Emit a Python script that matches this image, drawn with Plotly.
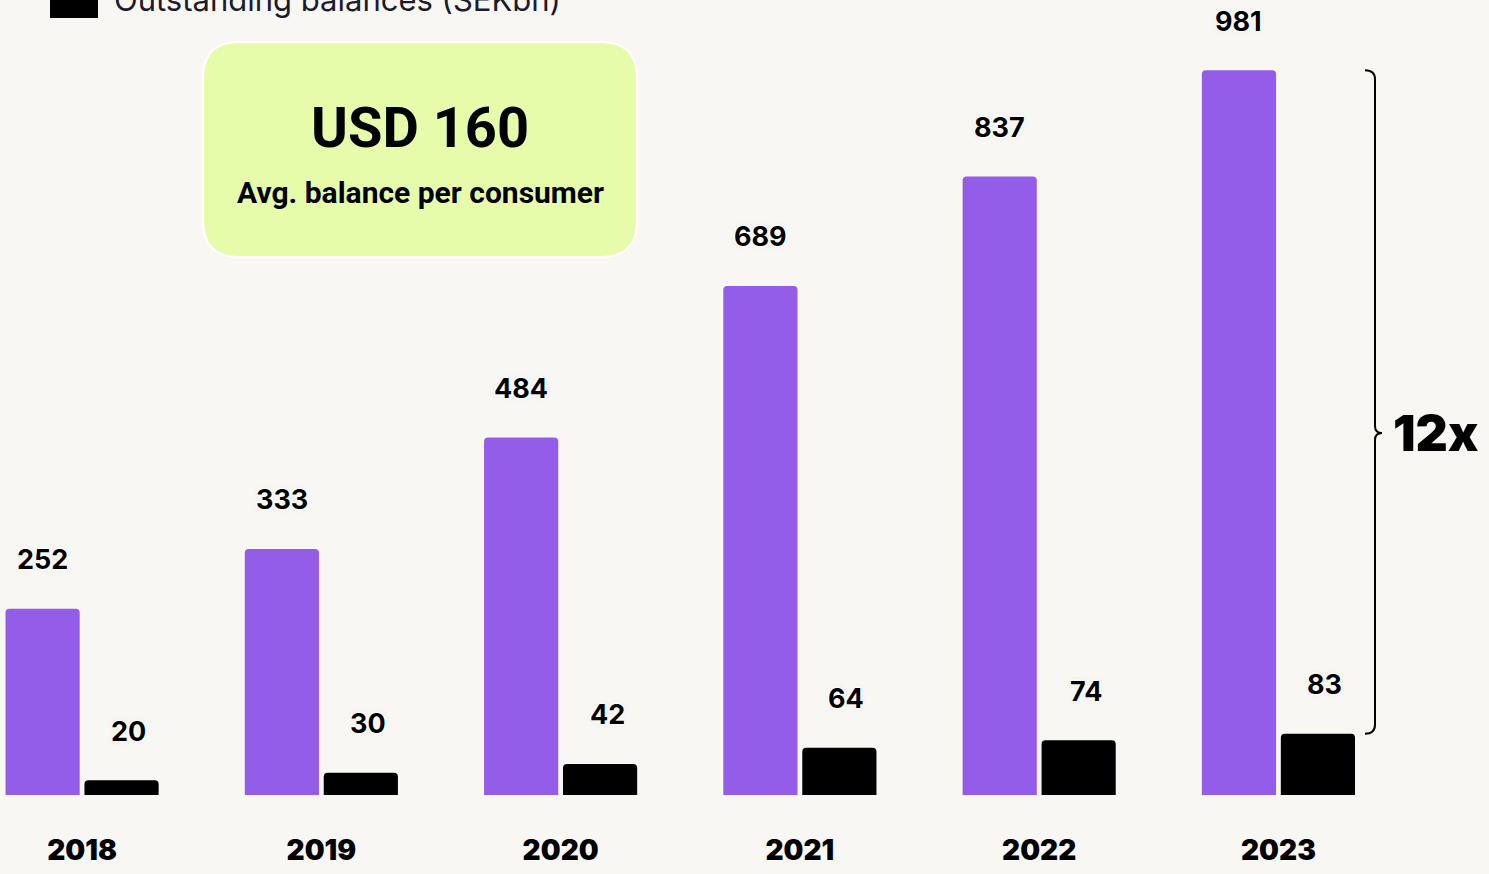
import plotly.graph_objects as go

# ---- data -------------------------------------------------------------
years = ["2018", "2019", "2020", "2021", "2022", "2023"]
primary_values = [252, 333, 484, 689, 837, 981]      # purple series
balances_sekbn = [20, 30, 42, 64, 74, 83]            # Outstanding balances (SEKbn)
legend_label = "Outstanding balances (SEKbn)"
callout_value = "USD 160"
callout_caption = "Avg. balance per consumer"
growth_label = "12x"

# ---- layout constants -------------------------------------------------
W, H = 1489, 874
MARGIN_B = 79
PLOT_H = H - MARGIN_B
BG = "#f8f7f3"
PURPLE = "#935ce9"
LIME = "#e6fcab"
X_RANGE = [-0.343, 5.880]
Y_RANGE = [0, 1076]
PX_X = W / (X_RANGE[1] - X_RANGE[0])        # pixels per x unit
PX_Y = PLOT_H / (Y_RANGE[1] - Y_RANGE[0])   # pixels per y unit
BAR_W = 0.31

idx = list(range(len(years)))


def px_to_paper_x(px):
    return px / W


def px_to_paper_y(px):
    # px measured from the top of the page
    return 1 - px / PLOT_H


fig = go.Figure()
fig.add_trace(go.Bar(
    x=idx, y=primary_values, width=BAR_W, offset=-0.32,
    marker=dict(color=PURPLE, cornerradius=4, line=dict(width=0)),
    showlegend=False, hoverinfo="skip",
))
fig.add_trace(go.Bar(
    x=idx, y=balances_sekbn, width=BAR_W, offset=0.01,
    marker=dict(color="#000000", cornerradius=4, line=dict(width=0)),
    showlegend=False, hoverinfo="skip",
))

halo = ("0 0 2px #ffffff, 0 0 3px #ffffff, 0 0 4px #ffffff, "
        "1px 1px 3px #ffffff, -1px -1px 3px #ffffff, 0 0 5px #d8d8d8")
label_font = dict(family="Inter, Roboto, sans-serif", size=27, color="#000000",
                  weight=700, shadow=halo)

annotations = []
for i, v in zip(idx, primary_values):
    annotations.append(dict(
        x=i - 0.32 + BAR_W / 2, y=v, xref="x", yref="y", text=str(v),
        showarrow=False, yshift=49, font=label_font,
    ))
for i, v in zip(idx, balances_sekbn):
    annotations.append(dict(
        x=i + 0.01 + BAR_W / 2, y=v, xref="x", yref="y", text=str(v),
        showarrow=False, yshift=49, xshift=7, font=label_font,
    ))

# legend entry at the top edge
annotations.append(dict(
    x=px_to_paper_x(112), y=1, xref="paper", yref="paper",
    xanchor="left", yanchor="middle", yshift=1, text=legend_label,
    showarrow=False,
    font=dict(family="Inter, Roboto, sans-serif", size=31, color="#1b1b2e"),
))

# callout box text
callout_font = "Roboto, Inter, sans-serif"
annotations.append(dict(
    x=px_to_paper_x(420), y=px_to_paper_y(128), xref="paper", yref="paper",
    text=callout_value, showarrow=False, xanchor="center", yanchor="middle",
    font=dict(family=callout_font, size=56, color="#000000", weight=700),
))
annotations.append(dict(
    x=px_to_paper_x(420), y=px_to_paper_y(193), xref="paper", yref="paper",
    text=callout_caption, showarrow=False, xanchor="center", yanchor="middle",
    font=dict(family=callout_font, size=30, color="#000000", weight=700),
))

# brace between the 2023 bar tops
top, bottom = primary_values[-1], balances_sekbn[-1]
tip = bottom + (top - bottom) * 0.453
x_line = X_RANGE[0] + 1375 / PX_X
x_hook = x_line - 10 / PX_X
x_tip = x_line + 7 / PX_X
r = 9 / PX_Y
rt = 7 / PX_Y
brace = (
    f"M {x_hook},{top} Q {x_line},{top} {x_line},{top - r} "
    f"L {x_line},{tip + rt} Q {x_line},{tip} {x_tip},{tip} "
    f"Q {x_line},{tip} {x_line},{tip - rt} "
    f"L {x_line},{bottom + r} Q {x_line},{bottom} {x_hook},{bottom}"
)

annotations.append(dict(
    x=x_tip, y=tip, xref="x", yref="y", text=growth_label, showarrow=False,
    xanchor="left", yanchor="middle", xshift=9,
    font=dict(family="Inter, Roboto, sans-serif", size=50, color="#000000", weight=900),
))

# rounded callout box
bx0, bx1, by0, by1, rad = 203, 637, 42, 257, 36


def P(x, y):
    return f"{px_to_paper_x(x)},{px_to_paper_y(y)}"


box_path = (
    f"M {P(bx0 + rad, by0)} L {P(bx1 - rad, by0)} Q {P(bx1, by0)} {P(bx1, by0 + rad)} "
    f"L {P(bx1, by1 - rad)} Q {P(bx1, by1)} {P(bx1 - rad, by1)} "
    f"L {P(bx0 + rad, by1)} Q {P(bx0, by1)} {P(bx0, by1 - rad)} "
    f"L {P(bx0, by0 + rad)} Q {P(bx0, by0)} {P(bx0 + rad, by0)} Z"
)

shapes = [
    dict(type="path", path=box_path, xref="paper", yref="paper",
         fillcolor=LIME, line=dict(color="#ffffff", width=2), layer="below"),
    dict(type="path", path=brace, xref="x", yref="y",
         line=dict(color="#000000", width=2)),
    dict(type="rect", xref="paper", yref="paper",
         x0=px_to_paper_x(50), x1=px_to_paper_x(98),
         y0=px_to_paper_y(18), y1=px_to_paper_y(-30),
         fillcolor="#000000", line=dict(width=0)),
]

fig.update_layout(
    width=W, height=H,
    margin=dict(l=0, r=0, t=0, b=MARGIN_B, pad=0),
    paper_bgcolor=BG, plot_bgcolor=BG,
    barmode="overlay",
    showlegend=False,
    annotations=annotations,
    shapes=shapes,
    xaxis=dict(
        range=X_RANGE, tickvals=idx, ticktext=years, showgrid=False,
        zeroline=False, showline=False, ticks="", ticklabelstandoff=36,
        tickfont=dict(family="Inter, Roboto, sans-serif", size=28,
                      color="#000000", weight=900),
        fixedrange=True,
    ),
    yaxis=dict(range=Y_RANGE, visible=False, showgrid=False, zeroline=False,
               fixedrange=True),
)

fig.write_html("out.html")
